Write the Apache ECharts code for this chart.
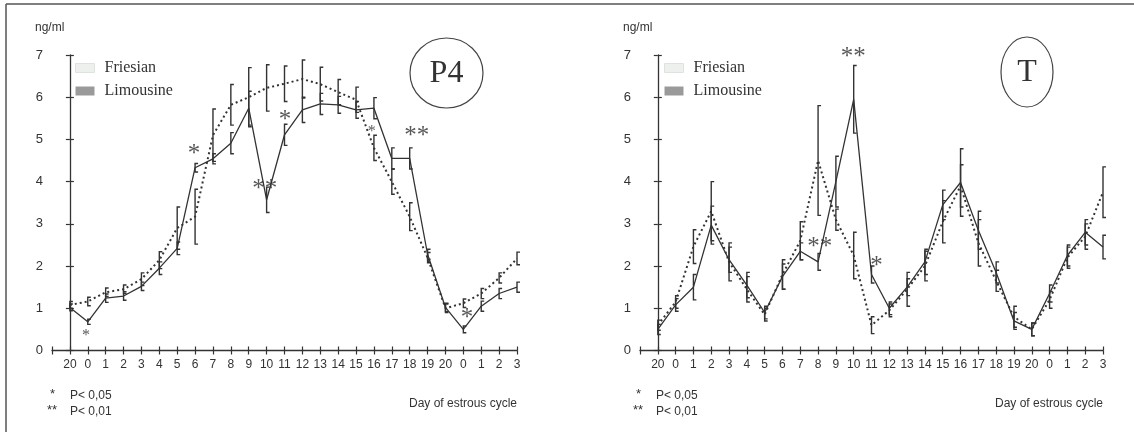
<!DOCTYPE html>
<html>
<head>
<meta charset="utf-8">
<script src="https://cdn.jsdelivr.net/npm/echarts@6/dist/echarts.min.js"></script>
<style>
html,body{margin:0;padding:0;background:#fff;}
#chart{width:1134px;height:436px;}
</style>
</head>
<body>
<div id="chart"></div>
<script>
// ---- data ----
const dayLabels = ['20','0','1','2','3','4','5','6','7','8','9','10','11','12','13','14','15','16','17','18','19','20','0','1','2','3'];

const p4Friesian   = [1.08,1.16,1.38,1.45,1.69,2.14,2.9,3.17,5.1,5.82,6.0,6.22,6.32,6.43,6.31,6.12,5.94,4.8,4.0,3.17,2.2,1.0,1.12,1.35,1.72,2.18];
const p4FriesianSE = [0.08,0.1,0.1,0.1,0.15,0.2,0.5,0.65,0.62,0.48,0.7,0.55,0.42,0.45,0.4,0.3,0.3,0.3,0.3,0.33,0.12,0.1,0.1,0.12,0.12,0.15];
const p4Limousine  = [1.02,0.68,1.24,1.29,1.52,1.95,2.42,4.33,4.54,4.91,5.74,3.57,5.11,5.70,5.84,5.82,5.70,5.74,4.55,4.55,2.28,1.02,0.5,1.05,1.35,1.5];
const p4LimousineSE= [0.08,0.06,0.1,0.1,0.1,0.15,0.15,0.1,0.12,0.25,0.4,0.3,0.25,0.3,0.25,0.2,0.2,0.25,0.25,0.25,0.12,0.1,0.08,0.12,0.12,0.12];

const tFriesian    = [0.6,1.15,2.46,3.3,2.1,1.45,0.85,1.8,2.6,4.5,3.1,2.25,0.6,0.95,1.45,2.0,3.05,3.9,2.55,1.65,0.8,0.5,1.2,2.2,2.7,3.75];
const tFriesianSE  = [0.12,0.15,0.4,0.7,0.45,0.3,0.15,0.35,0.45,1.3,0.25,0.55,0.2,0.15,0.4,0.35,0.5,0.5,0.55,0.25,0.25,0.15,0.2,0.25,0.3,0.6];
const tLimousine   = [0.5,1.08,1.5,2.97,2.15,1.55,0.9,1.75,2.35,2.1,4.0,5.95,1.8,1.0,1.5,2.1,3.45,3.98,2.85,1.85,0.7,0.5,1.35,2.25,2.8,2.45];
const tLimousineSE = [0.12,0.15,0.3,0.45,0.3,0.3,0.15,0.3,0.2,0.2,0.6,0.8,0.2,0.15,0.2,0.3,0.35,0.8,0.45,0.25,0.2,0.15,0.2,0.25,0.3,0.28];

// significance marks: [position index, value, text]
const p4StarsBig   = [[6.94,4.65,'*'],[10.9,3.82,'**'],[12.03,5.45,'*'],[19.4,5.07,'**'],[22.2,0.75,'*']];
const p4StarsSmall = [[0.9,0.35,'*'],[16.88,5.18,'*']];
const tStarsBig    = [[9.1,2.44,'**'],[10.97,6.95,'**'],[12.28,2.0,'*']];

const yTicks = [0,1,2,3,4,5,6,7];
const footnotes = ['P< 0,05','P< 0,01'];

// ---- helpers ----
const ink = '#333';
const pts = arr => arr.map((v,i)=>[i,v]);
const bars = (m,se) => m.map((v,i)=>[i, v-se[i], v+se[i]]);

function bracket(params, api){
  const x = api.value(0), lo = api.value(1), hi = api.value(2);
  const a = api.coord([x, hi]), b = api.coord([x, lo]);
  return {type:'polyline', silent:true,
    shape:{points:[[a[0]+3,a[1]],[a[0],a[1]],[b[0],b[1]],[b[0]+3,b[1]]]},
    style:{stroke:ink, fill:null, lineWidth:1.4}};
}

function xAxes(grid){
  const base = {gridIndex:grid, type:'value', min:-1, max:dayLabels.length-1, interval:1, position:'bottom', splitLine:{show:false}};
  return [
    Object.assign({}, base, {
      axisLine:{show:true, lineStyle:{color:ink, width:1.3}},
      axisTick:{show:true, length:4, lineStyle:{color:ink, width:1.2}},
      axisLabel:{show:true, margin:8, color:ink, fontSize:12, fontFamily:'Liberation Sans',
        formatter: v => (v>=0 && v<dayLabels.length) ? dayLabels[v] : ''}
    }),
    Object.assign({}, base, {
      axisLine:{show:false}, axisLabel:{show:false},
      axisTick:{show:true, inside:true, length:4, lineStyle:{color:ink, width:1.2}}
    })
  ];
}
function yAxes(grid){
  const base = {gridIndex:grid, type:'value', min:yTicks[0], max:yTicks[yTicks.length-1], interval:1, position:'left', splitLine:{show:false}};
  return [
    Object.assign({}, base, {
      axisLine:{show:true, lineStyle:{color:ink, width:1.3}},
      axisTick:{show:true, length:4, lineStyle:{color:ink, width:1.2}},
      axisLabel:{show:true, margin:9, color:ink, fontSize:13, fontFamily:'Liberation Sans'}
    }),
    Object.assign({}, base, {
      axisLine:{show:false}, axisLabel:{show:false},
      axisTick:{show:true, inside:true, length:4, lineStyle:{color:ink, width:1.2}}
    })
  ];
}

function panelSeries(xi, yi, fr, frSE, li, liSE, starsBig, starsSmall){
  const s = [
    {name:'Friesian', type:'line', xAxisIndex:xi, yAxisIndex:yi, data:pts(fr), showSymbol:false, silent:true,
      lineStyle:{color:ink, width:2, type:[2,3]}, itemStyle:{color:ink}, z:3},
    {name:'Limousine', type:'line', xAxisIndex:xi, yAxisIndex:yi, data:pts(li), showSymbol:false, silent:true,
      lineStyle:{color:ink, width:1.3}, itemStyle:{color:ink}, z:3},
    {type:'custom', xAxisIndex:xi, yAxisIndex:yi, data:bars(fr,frSE), renderItem:bracket, encode:{x:0,y:[1,2]}, z:4},
    {type:'custom', xAxisIndex:xi, yAxisIndex:yi, data:bars(li,liSE), renderItem:bracket, encode:{x:0,y:[1,2]}, z:4}
  ];
  const starSeries = (data, size) => ({type:'scatter', xAxisIndex:xi, yAxisIndex:yi, data:data, symbolSize:1, clip:false, silent:true,
    itemStyle:{color:'transparent'},
    label:{show:true, position:'inside', formatter:p=>p.data[2], fontSize:size, fontFamily:'Liberation Serif', color:'#2e2e2e'}, z:5});
  if (starsBig) s.push(starSeries(starsBig, 25));
  if (starsSmall) s.push(starSeries(starsSmall, 16));
  return s;
}

function legendFor(left){
  return {left:left, top:55, orient:'vertical', itemWidth:19, itemHeight:9, itemGap:7, selectedMode:false,
    textStyle:{fontFamily:'Liberation Serif', fontSize:16, color:ink, padding:[0,0,0,5]},
    data:[
      {name:'Friesian', icon:'rect', itemStyle:{color:'#eef0ee', borderColor:'#dfe3df', borderWidth:1}},
      {name:'Limousine', icon:'rect', itemStyle:{color:'#9a9a9a', borderWidth:0}}
    ]};
}

const T = (x,y,text,extra) => ({type:'text', x:x, y:y, silent:true,
  style:Object.assign({text:text, fill:ink, font:'12px "Liberation Sans"', textVerticalAlign:'middle'}, extra||{})});

const chart = echarts.init(document.getElementById('chart'), null, {renderer:'canvas'});
chart.setOption({
  animation:false,
  backgroundColor:'#fff',
  grid:[
    {left:52, top:55, width:465, height:295.5},
    {left:640, top:55, width:463, height:295.5}
  ],
  xAxis:[...xAxes(0), ...xAxes(1)],
  yAxis:[...yAxes(0), ...yAxes(1)],
  legend:[legendFor(70), legendFor(659)],
  series:[
    ...panelSeries(0,0,p4Friesian,p4FriesianSE,p4Limousine,p4LimousineSE,p4StarsBig,p4StarsSmall),
    ...panelSeries(2,2,tFriesian,tFriesianSE,tLimousine,tLimousineSE,tStarsBig,null)
  ],
  graphic:[
    {type:'line', silent:true, shape:{x1:6,y1:4,x2:1134,y2:4}, style:{stroke:'#555', lineWidth:1.5}},
    {type:'line', silent:true, shape:{x1:6,y1:4,x2:6,y2:432}, style:{stroke:'#555', lineWidth:1.5}},
    T(35,28,'ng/ml'),
    T(623,28,'ng/ml'),
    {type:'ellipse', silent:true, shape:{cx:446.5,cy:73,rx:36.5,ry:35}, style:{stroke:'#444', fill:'none', lineWidth:1.2}},
    T(446.5,74,'P4',{font:'32px "Liberation Serif"', textAlign:'center', fill:'#333'}),
    {type:'ellipse', silent:true, shape:{cx:1027,cy:72,rx:26,ry:35}, style:{stroke:'#444', fill:'none', lineWidth:1.2}},
    T(1027,73,'T',{font:'32px "Liberation Serif"', textAlign:'center', fill:'#333'}),
    T(50,394,'*',{font:'13px "Liberation Sans"'}),
    T(70,396,footnotes[0]),
    T(47,410,'**',{font:'13px "Liberation Sans"'}),
    T(70,412,footnotes[1]),
    T(517,404,'Day of estrous cycle',{textAlign:'right'}),
    T(636,394,'*',{font:'13px "Liberation Sans"'}),
    T(656,396,footnotes[0]),
    T(633,410,'**',{font:'13px "Liberation Sans"'}),
    T(656,412,footnotes[1]),
    T(1103,404,'Day of estrous cycle',{textAlign:'right'})
  ]
});
</script>
</body>
</html>
